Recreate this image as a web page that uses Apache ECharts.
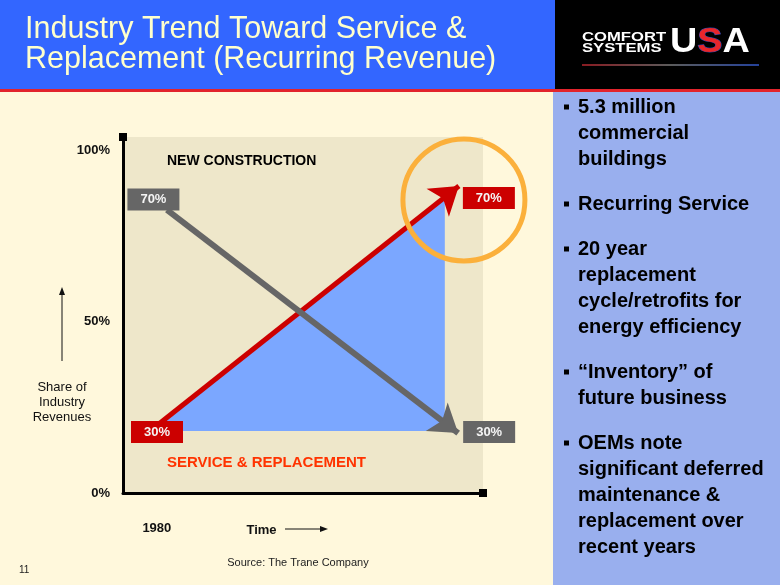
<!DOCTYPE html>
<html>
<head>
<meta charset="utf-8">
<script src="https://cdn.jsdelivr.net/npm/echarts@6.0.0/dist/echarts.min.js"></script>
<style>html,body{margin:0;padding:0;background:#FFF8DC}#c{width:780px;height:585px}</style>
</head>
<body>
<div id="c"></div>
<script>
const FONT = '"Liberation Sans", Arial, Helvetica, sans-serif';

// ---- data ----
const titleLines = ['Industry Trend Toward Service &', 'Replacement (Recurring Revenue)'];
const xTickValues = [9.4];
const xTickLabels = ['1980'];
const yTickValues = [0, 50, 100];
const yTickLabels = ['0%', '50%', '100%'];
const serviceLine = [[7.5, 18.1], [93.3, 89.7]];          // Service & Replacement share (start, end)
const newConstructionLine = [[12.2, 82.7], [93.1, 17.5]]; // New Construction share (start, end)
const serviceArea = [[7.5, 18.1], [89.4, 86.2], [89.4, 18.1]];
const serviceLabels = ['30%', '70%'];
const newConstructionLabels = ['70%', '30%'];
const highlightPoint = [[94.7, 85.6]];
const bullets = [
  ['5.3 million', 'commercial', 'buildings'],
  ['Recurring Service'],
  ['20 year', 'replacement', 'cycle/retrofits for', 'energy efficiency'],
  ['\u201CInventory\u201D of', 'future business'],
  ['OEMs note', 'significant deferred', 'maintenance &', 'replacement over', 'recent years']
];
const yAxisCaption = ['Share of', 'Industry', 'Revenues'];

// ---- graphics (slide decoration) ----
const g = [];
g.push({type:'rect', shape:{x:0,y:0,width:555,height:90}, style:{fill:'#3366FF'}, silent:true});
g.push({type:'rect', shape:{x:555,y:0,width:225,height:90}, style:{fill:'#000000'}, silent:true});
g.push({type:'rect', shape:{x:0,y:89,width:780,height:3}, style:{fill:'#E2242C'}, silent:true});
g.push({type:'rect', shape:{x:553,y:92,width:227,height:493}, style:{fill:'#99AFEE'}, silent:true});
titleLines.forEach((t,i)=>{
  g.push({type:'text', x:25, y:30 + i*29.5, style:{text:t, fill:'#FFFFCC', font:'30.5px ' + FONT, verticalAlign:'middle', align:'left'}});
});
// logo
g.push({type:'text', x:582, y:37, scaleX:1.28, style:{text:'COMFORT', fill:'#fff', font:'bold 13px ' + FONT, verticalAlign:'middle'}});
g.push({type:'text', x:582, y:48, scaleX:1.28, style:{text:'SYSTEMS', fill:'#fff', font:'bold 13px ' + FONT, verticalAlign:'middle'}});
g.push({type:'text', x:670, y:42, scaleX:1.08, style:{text:'U', fill:'#fff', font:'bold 35px ' + FONT, verticalAlign:'middle'}});
g.push({type:'text', x:697.3, y:42, scaleX:1.08, style:{text:'S', fill:'#E8262B', stroke:'#2A4BB8', lineWidth:1, font:'bold 35px ' + FONT, verticalAlign:'middle'}});
g.push({type:'text', x:722.5, y:42, scaleX:1.08, style:{text:'A', fill:'#fff', font:'bold 35px ' + FONT, verticalAlign:'middle'}});
g.push({type:'line', shape:{x1:582,y1:65,x2:759,y2:65}, style:{lineWidth:1.5, stroke:{type:'linear',x:0,y:0,x2:1,y2:0,colorStops:[{offset:0,color:'#B8232B'},{offset:0.5,color:'#7A7A7A'},{offset:1,color:'#2F57D0'}]}}});
// bullets
let by = 114;
bullets.forEach((lines)=>{
  g.push({type:'rect', shape:{x:564,y:by-9.5,width:5,height:5}, style:{fill:'#000'}});
  lines.forEach((ln)=>{
    g.push({type:'text', x:578, y:by-7, style:{text:ln, fill:'#000', font:'bold 20px ' + FONT, verticalAlign:'middle'}});
    by += 26;
  });
  by += 19;
});
// chart annotations
g.push({type:'text', x:167, y:161, style:{text:'NEW CONSTRUCTION', fill:'#000', font:'bold 14px ' + FONT, verticalAlign:'middle'}});
g.push({type:'text', x:167, y:463, style:{text:'SERVICE & REPLACEMENT', fill:'#FF3300', font:'bold 15px ' + FONT, verticalAlign:'middle'}});
yAxisCaption.forEach((t,i)=>{
  g.push({type:'text', x:62, y:387 + i*15, style:{text:t, fill:'#111', font:'13px ' + FONT, verticalAlign:'middle', align:'center'}});
});
g.push({type:'line', shape:{x1:62,y1:361,x2:62,y2:293}, style:{stroke:'#111', lineWidth:1}});
g.push({type:'polygon', shape:{points:[[62,287],[59,295],[65,295]]}, style:{fill:'#111'}});
g.push({type:'text', x:261.5, y:530, style:{text:'Time', fill:'#111', font:'bold 13px ' + FONT, verticalAlign:'middle', align:'center'}});
g.push({type:'line', shape:{x1:285,y1:529,x2:321,y2:529}, style:{stroke:'#111', lineWidth:1}});
g.push({type:'polygon', shape:{points:[[328,529],[320,526],[320,532]]}, style:{fill:'#111'}});
g.push({type:'text', x:298, y:563, style:{text:'Source: The Trane Company', fill:'#222', font:'11px ' + FONT, verticalAlign:'middle', align:'center'}});
g.push({type:'text', x:19, y:570, style:{text:'11', fill:'#222', font:'10px ' + FONT, verticalAlign:'middle'}});

const labelBase = {show:true, position:'inside', width:52, height:22, lineHeight:22, align:'center', verticalAlign:'middle',
  fontSize:13, fontWeight:'bold', color:'#F4F4F4', fontFamily:FONT};

function pick(vals, labels, v){
  let best = 0;
  vals.forEach((x,i)=>{ if (Math.abs(x - v) < Math.abs(vals[best] - v)) best = i; });
  return Math.abs(vals[best] - v) < 0.01 ? labels[best] : '';
}

const option = {
  animation:false,
  backgroundColor:'#FFF8DC',
  textStyle:{fontFamily:FONT},
  grid:{left:123, top:137, width:360, height:356, show:true, backgroundColor:'#EEE7CA', borderWidth:0},
  xAxis:{
    type:'value', min:0, max:100,
    axisLine:{show:true, onZero:false, lineStyle:{color:'#000', width:3}, symbol:['none','rect'], symbolSize:[8,8]},
    axisTick:{show:false}, splitLine:{show:false},
    axisLabel:{customValues:xTickValues, formatter:(v)=>pick(xTickValues, xTickLabels, v), margin:29,
      fontSize:13, fontWeight:'bold', color:'#111', fontFamily:FONT}
  },
  yAxis:{
    type:'value', min:0, max:104,
    axisLine:{show:true, onZero:false, lineStyle:{color:'#000', width:3}, symbol:['none','rect'], symbolSize:[8,8]},
    axisTick:{show:false}, splitLine:{show:false},
    axisLabel:{customValues:yTickValues, formatter:(v)=>pick(yTickValues, yTickLabels, v), margin:13,
      fontSize:13, fontWeight:'bold', color:'#111', fontFamily:FONT}
  },
  series:[
    {type:'custom', name:'area', z:2, clip:false, data:serviceArea,
      renderItem:(params, api)=>{
        if (params.dataIndex !== 0) return null;
        return {type:'polygon', shape:{points: serviceArea.map(p=>api.coord(p))}, style:{fill:'#7BA7FF'}};
      }},
    {type:'lines', name:'Service & Replacement', coordinateSystem:'cartesian2d', z:3,
      symbol:['none','arrow'], symbolSize:[18,27],
      lineStyle:{color:'#CC0000', width:5, opacity:1},
      data:[{coords:serviceLine}]},
    {type:'lines', name:'New Construction', coordinateSystem:'cartesian2d', z:3,
      symbol:['none','arrow'], symbolSize:[18,27],
      lineStyle:{color:'#666666', width:6, opacity:1},
      data:[{coords:newConstructionLine}]},
    {type:'scatter', name:'highlight', z:4, clip:false, symbol:'circle', symbolSize:122,
      itemStyle:{color:'rgba(0,0,0,0)', borderColor:'#FBB03B', borderWidth:5, opacity:1},
      data:highlightPoint},
    {type:'scatter', name:'serviceLabels', z:6, clip:false, symbolSize:0, itemStyle:{opacity:1},
      data:[
        {value:serviceLine[0], label:Object.assign({}, labelBase, {formatter:serviceLabels[0], backgroundColor:'#CC0000', offset:[7,1]})},
        {value:serviceLine[1], label:Object.assign({}, labelBase, {formatter:serviceLabels[1], backgroundColor:'#CC0000', offset:[30,12]})}
      ]},
    {type:'scatter', name:'newConstructionLabels', z:6, clip:false, symbolSize:0, itemStyle:{opacity:1},
      data:[
        {value:newConstructionLine[0], label:Object.assign({}, labelBase, {formatter:newConstructionLabels[0], backgroundColor:'#666666', offset:[-13.5,-10.5]})},
        {value:newConstructionLine[1], label:Object.assign({}, labelBase, {formatter:newConstructionLabels[1], backgroundColor:'#666666', offset:[31,-1]})}
      ]}
  ],
  graphic:{elements:g}
};

const chart = echarts.init(document.getElementById('c'), null, {renderer:'canvas'});
chart.setOption(option);
</script>
</body>
</html>
